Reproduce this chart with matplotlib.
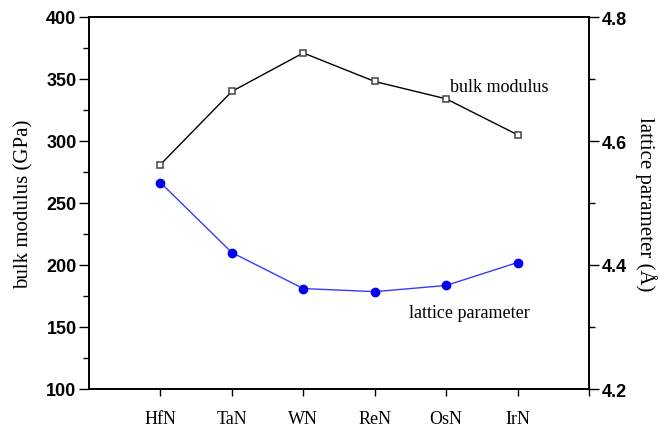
import matplotlib
matplotlib.use("Agg")
import matplotlib.pyplot as plt
from matplotlib.ticker import MultipleLocator

compounds = ["HfN", "TaN", "WN", "ReN", "OsN", "IrN"]
bulk_modulus = [281, 340, 371, 348, 334, 305]          # GPa
lattice_param = [4.533, 4.420, 4.362, 4.357, 4.367, 4.404]  # Angstrom

x = list(range(1, len(compounds) + 1))

fig = plt.figure(figsize=(6.64, 4.27), dpi=100)
ax = fig.add_axes([89 / 664, 1 - 390 / 427, 500 / 664, 372 / 427])
ax2 = ax.twinx()

serif = "Liberation Serif"
sans = "Liberation Sans"

ax.plot(x, bulk_modulus, color="black", lw=1.0, marker="s", ms=5,
        mfc="white", mec="#444444", mew=1.1, zorder=3)
ax2.plot(x, lattice_param, color="#3a3aff", lw=1.0, marker="o", ms=6,
         mfc="#0000ee", mec="#0000ee", zorder=3)

ax.set_xlim(0, 7)
ax.set_ylim(100, 400)
ax2.set_ylim(4.2, 4.8)

ax.set_xticks(x + [7])
ax.set_xticklabels(compounds + [""], fontfamily=serif, fontsize=13)
ax.tick_params(axis="x", direction="out", length=5, width=1.0, pad=10)

ax.yaxis.set_major_locator(MultipleLocator(50))
ax.yaxis.set_minor_locator(MultipleLocator(25))
ax.tick_params(axis="y", which="major", direction="out", length=7, width=1.0, pad=2)
ax.tick_params(axis="y", which="minor", direction="out", length=4, width=1.0)
for lab in ax.get_yticklabels():
    lab.set_fontfamily(sans)
    lab.set_fontweight("bold")
    lab.set_fontsize(13)

ax2.yaxis.set_major_locator(MultipleLocator(0.2))
ax2.yaxis.set_minor_locator(MultipleLocator(0.1))
ax2.tick_params(axis="y", which="major", direction="out", length=7, width=1.0, pad=2)
ax2.tick_params(axis="y", which="minor", direction="out", length=4, width=1.0)
ax2.set_yticks([4.2, 4.4, 4.6, 4.8])
ax2.set_yticklabels(["4.2", "4.4", "4.6", "4.8"], fontfamily=sans,
                    fontweight="bold", fontsize=13)

for a in (ax, ax2):
    for sp in a.spines.values():
        sp.set_linewidth(1.2)

ax.set_ylabel("bulk modulus (GPa)", fontfamily=serif, fontsize=15, labelpad=9)
ax2.set_ylabel("lattice parameter (Å)", fontfamily=serif, fontsize=15,
               rotation=270, labelpad=22)

ax.text(5.05, 344, "bulk modulus", fontfamily=serif, fontsize=13,
        ha="left", va="center")
ax2.text(4.48, 4.324, "lattice parameter", fontfamily=serif, fontsize=13,
         ha="left", va="center")

fig.savefig("out.png", dpi=100)
